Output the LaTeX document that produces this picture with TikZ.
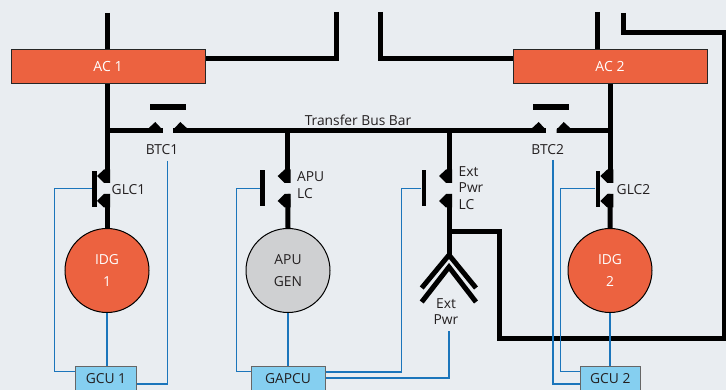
\documentclass[tikz,border=0pt]{standalone}
\usepackage{fontspec}
\setmainfont{Open Sans}
\definecolor{bgc}{HTML}{E9EDF1}
\definecolor{redc}{HTML}{EC6240}
\definecolor{bluec}{HTML}{1B75BB}
\definecolor{gcuc}{HTML}{85CFF0}
\definecolor{greyc}{HTML}{CFD0D2}
\definecolor{txtc}{HTML}{231F20}
\tikzset{
 x=1pt,y=-1pt,
 lbl/.style={inner sep=0,text=txtc,font=\fontsize{13.8}{16.8}\selectfont,align=left},
 wire/.style={line width=5pt,black,line cap=butt,line join=miter},
 ctl/.style={line width=1.1pt,bluec,line join=miter},
 bus/.style={draw=black!85,line width=1pt,fill=redc,text=white,minimum width=194pt,minimum height=34pt,inner sep=0,font=\fontsize{14}{16}\selectfont},
 gen/.style={circle,draw=black,line width=1pt,minimum size=84pt,inner sep=0,align=center,font=\fontsize{13.8}{22}\selectfont},
 unit/.style={draw=black!60,line width=1pt,fill=gcuc,text=txtc,minimum height=26pt,inner sep=0,font=\fontsize{13.8}{16}\selectfont},
 bar/.style={fill=black,inner sep=0},
 pics/contactv/.style={code={
  \fill (3,-5.5) -- (-3,-5.5) -- (-10,-12.5) -- (-3,-19) -- (3,-19) -- cycle;
  \fill (3,5.5) -- (-3,5.5) -- (-10,12.5) -- (-3,19) -- (3,19) -- cycle;}},
 pics/contacth/.style={code={
  \fill (-5.5,2.5) -- (-5.5,-1) -- (-12.5,-8.5) -- (-19,-2.5) -- (-19,2.5) -- cycle;
  \fill (5.5,2.5) -- (5.5,-1) -- (12.5,-8.5) -- (19,-2.5) -- (19,2.5) -- cycle;}}
}
\begin{document}
\begin{tikzpicture}
\useasboundingbox (0,0) rectangle (726,390);
\clip (0,0) rectangle (726,390);
\fill[bgc] (0,0) rectangle (726,390);
% units
\node[bus] (ac1) at (108,67) {AC 1};
\node[bus] (ac2) at (610,67) {AC 2};
\node[gen,fill=redc,text=white] (idg1) at (107,270.5) {IDG\\1};
\node[gen,fill=greyc,text=txtc] (apu) at (288,270.5) {APU\\GEN};
\node[gen,fill=redc,text=white] (idg2) at (610,270.5) {IDG\\2};
\node[unit,minimum width=61pt] (gcu1) at (106,379) {GCU 1};
\node[unit,minimum width=74pt] (gapcu) at (288,379) {GAPCU};
\node[unit,minimum width=60pt] (gcu2) at (610.3,379) {GCU 2};
% contact bars
\node[bar,minimum width=4.7pt,minimum height=36pt] (barg1) at (94.3,188.7) {};
\node[bar,minimum width=4.7pt,minimum height=36pt] (bara) at (262.7,188.5) {};
\node[bar,minimum width=4.7pt,minimum height=36pt] (bare) at (424,188.5) {};
\node[bar,minimum width=4.7pt,minimum height=36pt] (barg2) at (598,188.7) {};
\node[bar,minimum width=36pt,minimum height=5.5pt] (barb1) at (168,107) {};
\node[bar,minimum width=36pt,minimum height=5.5pt] (barb2) at (551,107) {};
% free ends
\coordinate (t1) at (107,13);
\coordinate (t2) at (336,12);
\coordinate (t3) at (380,12);
\coordinate (t4) at (597,12);
\coordinate (t5) at (623.5,13);
\coordinate (busl) at (107,130.5);
\coordinate (busr) at (610,130.5);
\coordinate (b1l) at (162.7,130.5);
\coordinate (b1r) at (173,130.5);
\coordinate (b2l) at (545.7,130.5);
\coordinate (b2r) at (556.7,130.5);
\coordinate (apubus) at (287.7,130.5);
\coordinate (extbus) at (449,130.5);
\coordinate (g1a) at (107,183);
\coordinate (g1b) at (107,194);
\coordinate (aa) at (287.7,183);
\coordinate (ab) at (287.7,194);
\coordinate (ea) at (449,183);
\coordinate (eb) at (449,194);
\coordinate (g2a) at (610.3,183);
\coordinate (g2b) at (610.3,194);
\coordinate (ejoin) at (449,232);
\coordinate (apex) at (449,255);
\coordinate (apex2) at (449,267);
\coordinate (o1) at (421.7,288);
\coordinate (o2) at (476,288);
\coordinate (i1) at (421.7,302);
\coordinate (i2) at (476,302);
% black wires
\draw[wire] (t1) -- (t1 |- ac1.north);
\draw[wire] (t2) |- (ac1.east |- 0,58.5);
\draw[wire] (t3) |- (ac2.west |- 0,58.5);
\draw[wire] (t4) -- (t4 |- ac2.north);
\draw[wire] (t5) |- (724.5,33) -- (724.5,338) -- (499,338) -- (499,232) -- (ejoin);
\draw[wire] (107,84) -- (g1a);
\draw[wire] (g1b) -- (idg1.north);
\draw[wire] (610.3,84) -- (g2a);
\draw[wire] (g2b) -- (idg2.north);
\draw[wire] (busl) -- (b1l);
\draw[wire] (b1r) -- (b2l);
\draw[wire] (b2r) -- (busr);
\draw[wire] (apubus) -- (aa);
\draw[wire] (ab) -- (apu.north);
\draw[wire] (extbus) -- (ea);
\draw[wire] (eb) -- (apex);
\draw[wire] (o1) -- (apex) -- (o2);
\draw[wire] (i1) -- (apex2) -- (i2);
% contacts
\pic at (107,188.5) {contactv};
\pic at (287.7,188.5) {contactv};
\pic at (449,188.5) {contactv};
\pic at (610.3,188.5) {contactv};
\pic at (167.8,130.5) {contacth};
\pic at (551.2,130.5) {contacth};
% control wires
\coordinate (cb1) at (167.5,161);
\coordinate (cb2) at (553,160);
\coordinate (ce) at (449,331);
\draw[ctl] (barg1.west) -| (54.7,371.7) -- (gcu1.west |- 0,371.7);
\draw[ctl] (cb1) |- (gcu1.east |- 0,384);
\draw[ctl] (idg1.south) -- (idg1.south |- gcu1.north);
\draw[ctl] (bara.west) -| (236.3,371.7) -- (gapcu.west |- 0,371.7);
\draw[ctl] (apu.south) -- (apu.south |- gapcu.north);
\draw[ctl] (bare.west) -| (401.7,372) -- (gapcu.east |- 0,372);
\draw[ctl] (ce) |- (gapcu.east |- 0,378);
\draw[ctl] (barg2.west) -| (560.7,371.7) -- (gcu2.west |- 0,371.7);
\draw[ctl] (cb2) |- (gcu2.west |- 0,384);
\draw[ctl] (idg2.south) -- (idg2.south |- gcu2.north);
% labels
\node[lbl] (ltbb) at (358,120) {Transfer Bus Bar};
\node[lbl] (lb1) at (162,150) {BTC1};
\node[lbl] (lb2) at (547.7,150) {BTC2};
\node[lbl] (lg1) at (128.5,190) {GLC1};
\node[lbl] (lg2) at (633.5,190) {GLC2};
\node[lbl,anchor=west] (la) at (297,185) {APU\\LC};
\node[lbl,anchor=west] (le) at (458.5,188) {Ext\\Pwr\\LC};
\node[lbl,align=center] (lx) at (446,311.5) {Ext\\Pwr};
\end{tikzpicture}
\end{document}
